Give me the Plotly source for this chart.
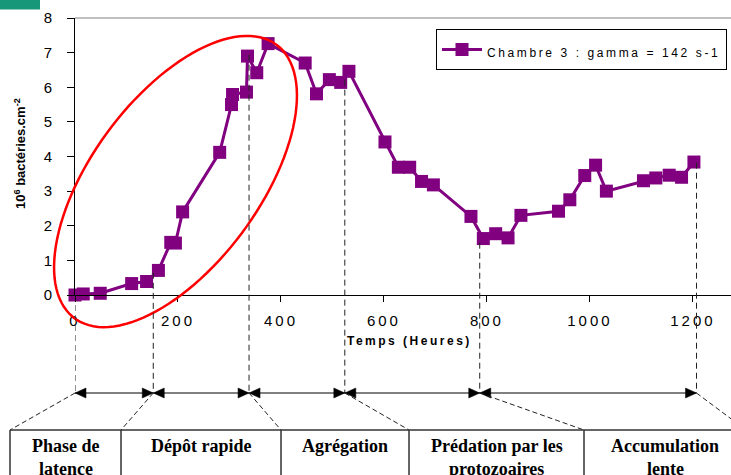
import numpy as np
import plotly.graph_objects as go

# ---------------- data ----------------
hours = [0, 16, 49, 110, 139, 162, 186, 195, 209, 281, 304, 306, 333, 335, 353, 375,
         447, 469, 494, 516, 532, 602, 628, 650, 673, 696, 769, 793, 817, 841, 866,
         939, 961, 990, 1011, 1032, 1104, 1128, 1154, 1178, 1202]
values = [0.0, 0.03, 0.05, 0.33, 0.39, 0.71, 1.52, 1.50, 2.40, 4.12, 5.50, 5.79, 5.86,
          6.90, 6.42, 7.26, 6.70, 5.81, 6.22, 6.14, 6.46, 4.42, 3.69, 3.69, 3.28, 3.18,
          2.27, 1.63, 1.77, 1.65, 2.30, 2.42, 2.75, 3.45, 3.75, 3.00, 3.30, 3.38, 3.46,
          3.40, 3.84]
series_name = "Chambre 3 : gamma = 142 s-1"
x_ticks = [0, 200, 400, 600, 800, 1000, 1200]
y_ticks = [0, 1, 2, 3, 4, 5, 6, 7, 8]
phase_bounds_h = [0, 152, 338, 524, 786, 1207]          # phase boundaries (hours)
phase_bounds_top = [0.0, 0.64, 6.94, 6.22, 1.51, 3.82]  # where the dashed guides start
phase_labels = [["Phase de", "latence"], ["Dépôt rapide"], ["Agrégation"],
                ["Prédation par les", "protozoaires"], ["Accumulation", "lente"]]

# ---------------- layout constants ----------------
W, H = 731, 475
L, T = 75, 18
PLOT_W, PLOT_H = W - L, 277
X_MAX, Y_MAX = 1274, 8
PURPLE = "#800080"
SANS = "Liberation Sans, Arial, sans-serif"
SERIF = "Liberation Serif, Times New Roman, serif"


def pxx(px):
    return (px - L) / PLOT_W


def pxy(py):
    return (T + PLOT_H - py) / PLOT_H


fig = go.Figure()
fig.add_trace(go.Scatter(
    x=hours, y=values, mode="lines+markers",
    name=f"<span style='font-size:12px;letter-spacing:2.6px'>{series_name}</span>",
    line=dict(color=PURPLE, width=3),
    marker=dict(symbol="square", size=13, color=PURPLE),
    cliponaxis=False,
))

shapes = []
# top border of plot area
shapes.append(dict(type="line", xref="paper", yref="paper", x0=0, x1=1, y0=1, y1=1,
                   line=dict(color="#808080", width=1)))
# teal tab top-left
shapes.append(dict(type="rect", xref="paper", yref="paper", x0=pxx(0), x1=pxx(40),
                   y0=pxy(0), y1=pxy(9.5), fillcolor="#17977A", line=dict(width=0)))

# red ellipse (pixel geometry around an anchor)
a_px, b_px, th = 170, 84, np.deg2rad(53.6)
t = np.linspace(0, 2 * np.pi, 120)
ex = a_px * np.cos(t) * np.cos(th) - b_px * np.sin(t) * np.sin(th)
ey = a_px * np.cos(t) * np.sin(th) + b_px * np.sin(t) * np.cos(th)
path = "M" + " L".join(f"{x:.2f},{y:.2f}" for x, y in zip(ex, ey)) + " Z"
shapes.append(dict(type="path", path=path, xref="paper", yref="paper",
                   xsizemode="pixel", ysizemode="pixel",
                   xanchor=pxx(175.5), yanchor=pxy(181.5),
                   line=dict(color="#FF0000", width=2.5)))

y_arrow = pxy(393)
y_box = pxy(430)
box_corners_px = [10, 121, 281, 409, 584, 746]

# vertical dashed guides from data down to arrow row
for b, top in zip(phase_bounds_h, phase_bounds_top):
    shapes.append(dict(type="line", xref="x", yref="paper", x0=b, x1=b,
                       y0=top / Y_MAX, y1=y_arrow,
                       line=dict(color="#222222", width=1, dash="6px,4px")))
# arrow row
shapes.append(dict(type="line", xref="x", yref="paper", x0=phase_bounds_h[0],
                   x1=phase_bounds_h[-1], y0=y_arrow, y1=y_arrow,
                   line=dict(color="black", width=1)))
for i in range(len(phase_bounds_h) - 1):
    for b, p in ((phase_bounds_h[i], "M0,0 L11,5 L11,-5 Z"),
                 (phase_bounds_h[i + 1], "M0,0 L-11,5 L-11,-5 Z")):
        shapes.append(dict(type="path", path=p, xref="x", yref="paper",
                           xsizemode="pixel", ysizemode="pixel",
                           xanchor=b, yanchor=y_arrow,
                           fillcolor="black", line=dict(color="black", width=0.5)))
# diagonal dashed connectors
for b, c in zip(phase_bounds_h, box_corners_px):
    shapes.append(dict(type="line", xref="paper", yref="paper",
                       x0=b / X_MAX, x1=pxx(c), y0=y_arrow, y1=y_box,
                       line=dict(color="#222222", width=1, dash="5px,3px")))
# boxes
shapes.append(dict(type="line", xref="paper", yref="paper", x0=pxx(box_corners_px[0]),
                   x1=pxx(box_corners_px[-1]), y0=y_box, y1=y_box,
                   line=dict(color="#333333", width=1.5)))
for c in box_corners_px[:-1]:
    shapes.append(dict(type="line", xref="paper", yref="paper", x0=pxx(c), x1=pxx(c),
                       y0=y_box, y1=pxy(485), line=dict(color="#333333", width=1.5)))

annotations = []
for lines, c0, c1 in zip(phase_labels, box_corners_px[:-1], box_corners_px[1:]):
    for k, txt in enumerate(lines):
        annotations.append(dict(text=f"<b>{txt}</b>", xref="paper", yref="paper",
                                x=pxx((c0 + c1) / 2), y=pxy(446 + 22.5 * k),
                                xanchor="center", yanchor="middle", showarrow=False,
                                font=dict(family=SERIF, size=18, color="black")))
# axis titles
annotations.append(dict(text="<b><span style='letter-spacing:2.5px'>Temps (Heures)</span></b>",
                        xref="paper", yref="paper", x=pxx(410), y=pxy(341),
                        xanchor="center", yanchor="middle", showarrow=False,
                        font=dict(family=SANS, size=12, color="black")))
annotations.append(dict(text="<b>10<sup>6</sup> bactéries.cm<sup>-2</sup></b>",
                        xref="paper", yref="paper", x=pxx(20), y=pxy(154),
                        xanchor="center", yanchor="middle", textangle=-90,
                        showarrow=False, font=dict(family=SANS, size=13, color="black")))

fig.update_layout(
    width=W, height=H,
    margin=dict(l=L, r=0, t=T, b=H - T - PLOT_H, autoexpand=False),
    paper_bgcolor="white", plot_bgcolor="white",
    showlegend=True,
    legend=dict(x=pxx(727), y=pxy(29), xanchor="right", yanchor="top",
                bordercolor="black", borderwidth=1, bgcolor="white",
                font=dict(family=SANS, size=20, color="black"), itemwidth=40),
    shapes=shapes, annotations=annotations,
    xaxis=dict(range=[0, X_MAX], showgrid=False, zeroline=False, showline=True,
               linecolor="black", linewidth=1, ticks="outside", ticklen=6,
               tickcolor="black", tickvals=x_ticks,
               ticktext=[f"<span style='letter-spacing:3px'>{v}</span>" for v in x_ticks],
               tickfont=dict(family=SANS, size=15, color="black"),
               ticklabelstandoff=6),
    yaxis=dict(range=[0, Y_MAX], showgrid=False, zeroline=False, showline=True,
               linecolor="black", linewidth=1, ticks="outside", ticklen=7,
               tickcolor="black", tickvals=y_ticks,
               tickfont=dict(family=SANS, size=15, color="black"),
               ticklabelstandoff=12),
)

fig.write_html("out.html")
